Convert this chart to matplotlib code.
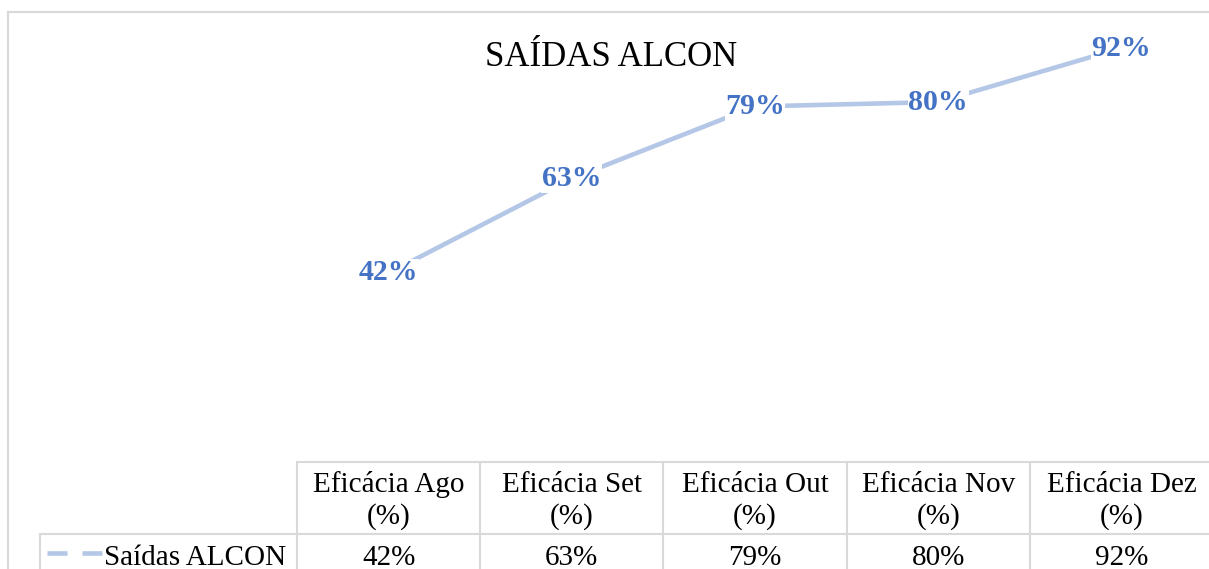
import matplotlib
matplotlib.use("Agg")
import matplotlib.pyplot as plt
from matplotlib.transforms import blended_transform_factory

plt.rcParams['font.family'] = ['Liberation Serif', 'DejaVu Serif']

title = "SAÍDAS ALCON"
series_name = "Saídas ALCON"
categories = ["Eficácia Ago\n(%)", "Eficácia Set\n(%)", "Eficácia Out\n(%)",
              "Eficácia Nov\n(%)", "Eficácia Dez\n(%)"]
values = [0.42, 0.63, 0.79, 0.80, 0.92]
value_labels = ["42%", "63%", "79%", "80%", "92%"]

W, H = 1209, 569
fig = plt.figure(figsize=(W / 100, H / 100), dpi=100)

line_color = "#B4C7E7"
label_color = "#4472C4"
grid_color = "#D9D9D9"

# overlay in pixel coordinates
ov = fig.add_axes([0, 0, 1, 1])
ov.set_xlim(0, W)
ov.set_ylim(H, 0)
ov.axis("off")

# plot area
x0, x1 = 297, 1213
y_top, y_bot = 12, 462
ax = fig.add_axes([x0 / W, (H - y_bot) / H, (x1 - x0) / W, (y_bot - y_top) / H])
ax.set_xlim(-0.5, len(values) - 0.5)
ax.set_ylim(0, 1)
ax.axis("off")
ax.patch.set_alpha(0)

xs = list(range(len(values)))
ax.plot(xs, values, color=line_color, lw=3.3, solid_capstyle="butt", zorder=2)
for x, v, lab in zip(xs, values, value_labels):
    ax.text(x, v, lab, ha="center", va="center", fontsize=21.5, fontweight="bold",
            color=label_color, zorder=3,
            bbox=dict(boxstyle="square,pad=0.02", fc="white", ec="none"))

# title
ov.text(611, 66, title, ha="center", va="baseline", fontsize=25, color="black")

# chart border (top & left)
ov.plot([8, W], [12, 12], color=grid_color, lw=1.5)
ov.plot([8, 8], [12, H], color=grid_color, lw=1.5)

# data table
tr = blended_transform_factory(ax.transData, ov.transData)
n = len(values)
ov.plot([x0, W], [462, 462], color=grid_color, lw=1.5)
ov.plot([40, W], [533.5, 533.5], color=grid_color, lw=1.5)
ov.plot([40, 40], [533.5, H], color=grid_color, lw=1.5)
for i in range(n):
    ov.plot([i - 0.5, i - 0.5], [462, H], color=grid_color, lw=1.5, transform=tr)
for i, cat in enumerate(categories):
    l1, l2 = cat.split("\n")
    ov.text(i, 492, l1, ha="center", va="baseline", fontsize=21, transform=tr)
    ov.text(i, 524, l2, ha="center", va="baseline", fontsize=21, transform=tr)
    ov.text(i, 565, value_labels[i], ha="center", va="baseline", fontsize=21, transform=tr)

# legend key + series name
for xa, xb in [(47, 67), (82, 102)]:
    ov.plot([xa, xb], [553, 553], color=line_color, lw=3.3, solid_capstyle="butt")
ov.text(104, 565, series_name, ha="left", va="baseline", fontsize=21)

fig.savefig("out.png", dpi=100)
